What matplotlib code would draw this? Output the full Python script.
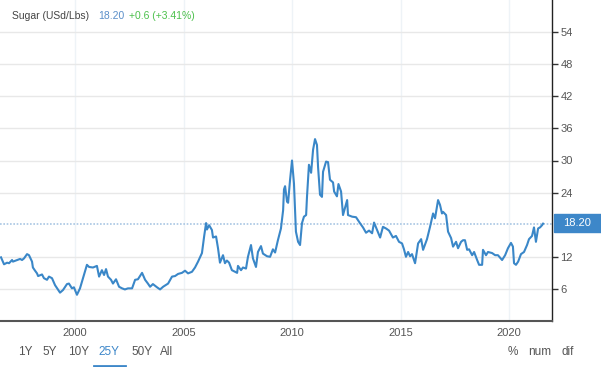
import numpy as np
import matplotlib.pyplot as plt
from matplotlib.patches import Rectangle
from matplotlib.lines import Line2D

plt.rcParams['font.family'] = ['Liberation Sans', 'DejaVu Sans']

# Prix du sucre (USd/Lbs)
years = [
    1996.59, 1996.73, 1996.87, 1996.96, 1997.10, 1997.14, 1997.33, 1997.47, 1997.56, 1997.65,
    1997.79, 1997.88, 1998.02, 1998.06, 1998.16, 1998.25, 1998.30, 1998.48, 1998.57, 1998.71,
    1998.80, 1998.94, 1999.08, 1999.31, 1999.45, 1999.63, 1999.72, 1999.86, 1999.95, 2000.09,
    2000.23, 2000.37, 2000.55, 2000.65, 2000.83, 2001.01, 2001.11, 2001.24, 2001.34, 2001.43,
    2001.52, 2001.66, 2001.75, 2001.89, 2002.03, 2002.17, 2002.30, 2002.44, 2002.63, 2002.77,
    2002.90, 2003.09, 2003.23, 2003.36, 2003.46, 2003.59, 2003.78, 2003.92, 2004.06, 2004.29,
    2004.47, 2004.61, 2004.75, 2004.93, 2005.07, 2005.21, 2005.39, 2005.53, 2005.67, 2005.85,
    2005.95, 2006.04, 2006.08, 2006.18, 2006.31, 2006.36, 2006.50, 2006.59, 2006.68, 2006.82,
    2006.91, 2007.00, 2007.10, 2007.23, 2007.37, 2007.47, 2007.51, 2007.65, 2007.74, 2007.88,
    2007.97, 2008.11, 2008.20, 2008.34, 2008.43, 2008.57, 2008.66, 2008.85, 2008.99, 2009.12,
    2009.22, 2009.35, 2009.49, 2009.59, 2009.63, 2009.68, 2009.77, 2009.82, 2009.91, 2010.00,
    2010.09, 2010.18, 2010.28, 2010.37, 2010.46, 2010.55, 2010.65, 2010.69, 2010.78, 2010.88,
    2010.97, 2011.06, 2011.15, 2011.20, 2011.29, 2011.38, 2011.43, 2011.57, 2011.66, 2011.75,
    2011.89, 2011.94, 2012.07, 2012.14, 2012.26, 2012.35, 2012.54, 2012.58, 2012.77, 2012.95,
    2013.13, 2013.27, 2013.41, 2013.55, 2013.69, 2013.78, 2013.92, 2014.06, 2014.19, 2014.33,
    2014.47, 2014.65, 2014.79, 2014.93, 2015.07, 2015.16, 2015.25, 2015.35, 2015.44, 2015.53,
    2015.67, 2015.81, 2015.95, 2016.04, 2016.22, 2016.36, 2016.50, 2016.59, 2016.73, 2016.82,
    2016.91, 2016.96, 2017.10, 2017.19, 2017.33, 2017.42, 2017.56, 2017.65, 2017.79, 2017.88,
    2017.97, 2018.07, 2018.16, 2018.30, 2018.39, 2018.53, 2018.62, 2018.76, 2018.80, 2018.94,
    2019.03, 2019.22, 2019.36, 2019.49, 2019.68, 2019.82, 2019.95, 2020.09, 2020.18, 2020.23,
    2020.32, 2020.42, 2020.55, 2020.69, 2020.83, 2020.92, 2021.06, 2021.15, 2021.24, 2021.34,
    2021.43, 2021.52, 2021.57,
]
prices = [
    11.9, 10.6, 10.9, 10.8, 11.4, 11.1, 11.4, 11.6, 11.4, 11.7,
    12.5, 12.3, 11.1, 10.0, 9.4, 8.9, 8.4, 8.7, 8.0, 7.7,
    8.3, 8.0, 6.7, 5.3, 5.8, 6.9, 7.0, 6.1, 6.3, 4.9,
    6.1, 8.0, 10.5, 10.1, 10.0, 10.3, 8.3, 9.5, 8.6, 9.7,
    8.3, 7.7, 7.0, 7.8, 6.4, 6.1, 5.9, 6.1, 6.1, 7.7,
    7.8, 9.0, 7.7, 7.0, 6.4, 6.9, 6.3, 5.9, 6.4, 7.0,
    8.3, 8.4, 8.8, 9.0, 9.4, 8.9, 9.2, 10.0, 11.1, 12.7,
    15.8, 18.3, 17.1, 17.9, 17.0, 15.6, 15.8, 13.6, 10.9, 12.3,
    10.8, 11.3, 10.9, 9.5, 9.2, 9.0, 10.3, 9.5, 10.0, 9.8,
    12.0, 14.2, 11.7, 10.1, 12.9, 14.0, 12.6, 12.1, 12.0, 13.4,
    12.8, 15.1, 17.3, 20.7, 24.6, 25.2, 22.3, 22.1, 26.4, 30.0,
    25.7, 16.7, 14.8, 14.2, 18.3, 19.5, 19.8, 23.2, 29.2, 27.7,
    32.0, 34.0, 32.9, 28.8, 23.6, 23.2, 27.9, 29.8, 29.7, 26.4,
    25.9, 24.2, 23.3, 25.6, 24.2, 19.8, 22.6, 19.8, 19.5, 19.4,
    18.3, 17.5, 16.5, 16.9, 16.4, 18.4, 17.0, 15.6, 17.6, 17.3,
    16.9, 15.6, 15.9, 14.8, 14.5, 13.4, 12.0, 12.9, 12.1, 12.5,
    10.8, 14.5, 15.3, 13.3, 15.3, 17.6, 20.1, 19.2, 22.6, 21.7,
    20.1, 20.4, 19.8, 16.7, 15.5, 13.9, 14.8, 13.6, 14.8, 15.1,
    15.1, 13.3, 13.4, 12.3, 12.9, 11.4, 10.5, 10.5, 13.3, 12.3,
    12.9, 12.7, 12.3, 12.3, 11.4, 12.3, 13.6, 14.6, 13.9, 10.8,
    10.5, 11.1, 12.5, 12.9, 14.2, 15.3, 15.9, 17.5, 14.8, 17.3,
    17.5, 17.9, 18.2,
]
last_price = 18.20
y_ticks = [6, 12, 24, 30, 36, 42, 48, 54]
x_ticks = [2000, 2005, 2010, 2015, 2020]
ranges = ['1Y', '5Y', '10Y', '25Y', '50Y', 'All']
modes = ['%', 'num', 'dif']

W, H = 601, 367
fig = plt.figure(figsize=(W / 100, H / 100), dpi=100)
ax = fig.add_axes([0, 46 / H, 552 / W, 321 / H])

line_col = '#3a87c8'
ax.plot(years, prices, color=line_col, linewidth=1.5, zorder=3)
ax.axhline(last_price, color='#a9c6e3', linestyle=(0, (1, 1)), linewidth=1.2, zorder=2)

ax.set_xlim(1996.544, 2021.98)
ax.set_ylim(0, 60)
ax.set_yticks(y_ticks)
ax.set_xticks(x_ticks)
ax.set_xticklabels([str(t) for t in x_ticks])
ax.yaxis.tick_right()
ax.tick_params(axis='y', direction='out', length=4, width=1, color='#333333',
               labelcolor='#555555', labelsize=8, pad=2)
ax.tick_params(axis='x', length=0, labelcolor='#555555', labelsize=8, pad=5)

ax.grid(axis='y', color='#e8e8e8', linewidth=1)
ax.grid(axis='x', color='#eef3f7', linewidth=1)
ax.set_axisbelow(True)

for s in ['top', 'left']:
    ax.spines[s].set_visible(False)
ax.spines['right'].set_color('#222222')
ax.spines['right'].set_linewidth(1)
ax.spines['bottom'].set_color('#555555')
ax.spines['bottom'].set_linewidth(1.5)

# Étiquette du dernier prix
fig.patches.append(Rectangle((554 / W, (H - 232) / H), 47 / W, 18 / H,
                             transform=fig.transFigure, color='#3d87c9', zorder=5))
fig.text(577 / W, 1 - 223 / H, f'{last_price:.2f}', color='white', fontsize=8,
         ha='center', va='center', zorder=6)

# Titre
fig.text(12 / W, 1 - 16 / H, 'Sugar (USd/Lbs)', color='#444444', fontsize=7.5, va='center')
fig.text(98 / W, 1 - 16 / H, f'{last_price:.2f}', color='#5b8fc9', fontsize=7.5, va='center')
fig.text(129 / W, 1 - 16 / H, '+0.6 (+3.41%)', color='#4cc04c', fontsize=7.5, va='center')

# Boutons
xs = [25, 50, 78.5, 109, 142, 167]
for lab, x in zip(ranges, xs):
    col = '#3d87c9' if lab == '25Y' else '#555555'
    fig.text(x / W, 1 - 352 / H, lab, color=col, fontsize=8.5, ha='center', va='center')
fig.lines.append(Line2D([94 / W, 124.5 / W], [1 - 365.5 / H, 1 - 365.5 / H],
                        transform=fig.transFigure, color='#3d87c9', linewidth=2))
for lab, x in zip(modes, [513, 540, 568]):
    fig.text(x / W, 1 - 352 / H, lab, color='#555555', fontsize=8.5, ha='center', va='center')

fig.savefig('out.png', dpi=100)
